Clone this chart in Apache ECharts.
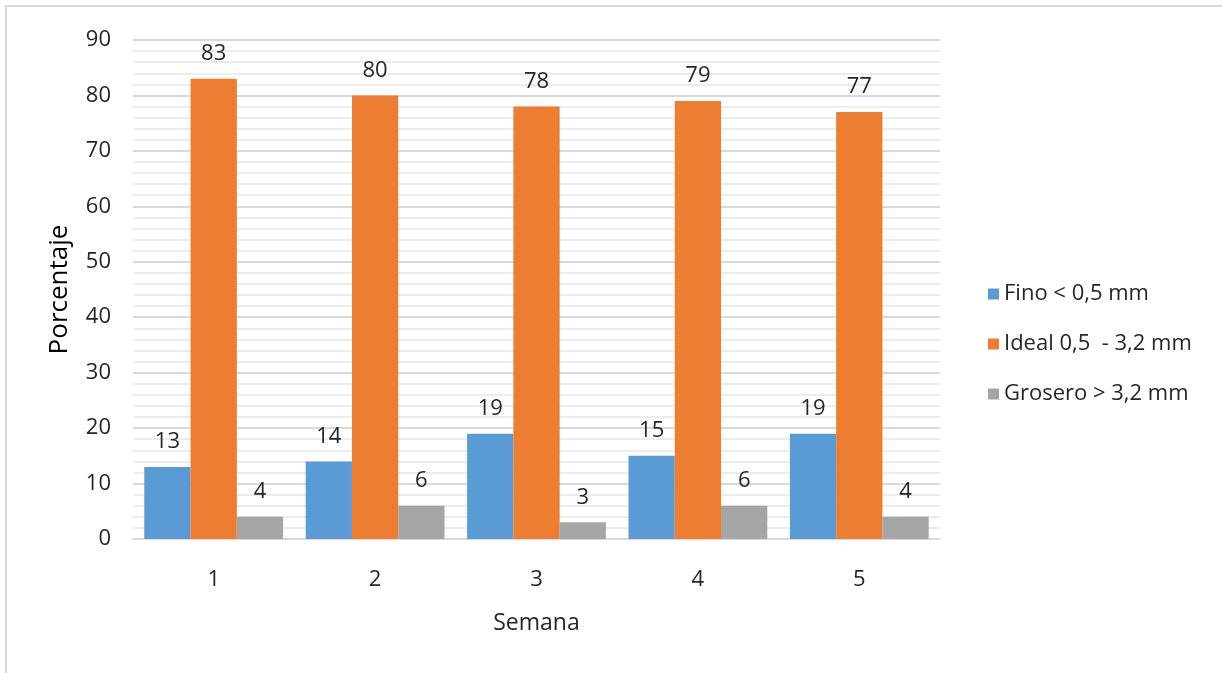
<!DOCTYPE html>
<html><head><meta charset="utf-8">
<script src="https://cdn.jsdelivr.net/npm/echarts@6/dist/echarts.min.js"></script>
<style>html,body{margin:0;padding:0;background:#fff}#c{width:1222px;height:673px}</style>
</head><body><div id="c"></div>
<script>
const categories = ['1','2','3','4','5'];
const fino = [13,14,19,15,19];
const ideal = [83,80,78,79,77];
const grosero = [4,6,3,6,4];
const seriesNames = ['Fino < 0,5 mm','Ideal 0,5  - 3,2 mm','Grosero > 3,2 mm'];
const colors = ['#5b9bd5','#ed7d31','#a5a5a5'];
const FONT = '"Open Sans", "Noto Sans", sans-serif';

const chart = echarts.init(document.getElementById('c'));
const lbl = {show:true, position:'top', distance:14, color:'#262626', fontSize:22, fontFamily:FONT};
chart.setOption({
  animation:false,
  graphic:[{type:'rect', shape:{x:6,y:6,width:1240,height:700}, style:{fill:'none', stroke:'#d9d9d9', lineWidth:2}, silent:true}],
  grid:{left:133, right:282, top:40, bottom:134},
  legend:{orient:'vertical', left:983, top:278, itemWidth:11, itemHeight:11, itemGap:28,
    icon:'rect', textStyle:{fontSize:22, color:'#262626', fontFamily:FONT}, data:seriesNames},
  xAxis:{type:'category', data:categories, name:'Semana', nameLocation:'middle', nameGap:73,
    nameTextStyle:{fontSize:23, color:'#262626', fontFamily:FONT},
    axisLine:{lineStyle:{color:'#d9d9d9', width:2}}, axisTick:{show:false},
    axisLabel:{fontSize:22, color:'#262626', margin:30, fontFamily:FONT}},
  yAxis:{type:'value', min:0, max:90, interval:10, name:'Porcentaje', nameLocation:'middle', nameGap:60,
    nameTextStyle:{fontSize:26, color:'#000', fontFamily:FONT},
    axisLabel:{fontSize:22, color:'#262626', margin:22, fontFamily:FONT},
    splitLine:{lineStyle:{color:'#d9d9d9', width:2}},
    minorTick:{show:false, splitNumber:5},
    minorSplitLine:{show:true, lineStyle:{color:'#ececec', width:2}}},
  series:[
    {name:seriesNames[0], type:'bar', data:fino, itemStyle:{color:colors[0]}, barGap:'0%', barCategoryGap:'14%', label:lbl},
    {name:seriesNames[1], type:'bar', data:ideal, itemStyle:{color:colors[1]}, barGap:'0%', barCategoryGap:'14%', label:lbl},
    {name:seriesNames[2], type:'bar', data:grosero, itemStyle:{color:colors[2]}, barGap:'0%', barCategoryGap:'14%', label:lbl}
  ]
});
</script></body></html>
